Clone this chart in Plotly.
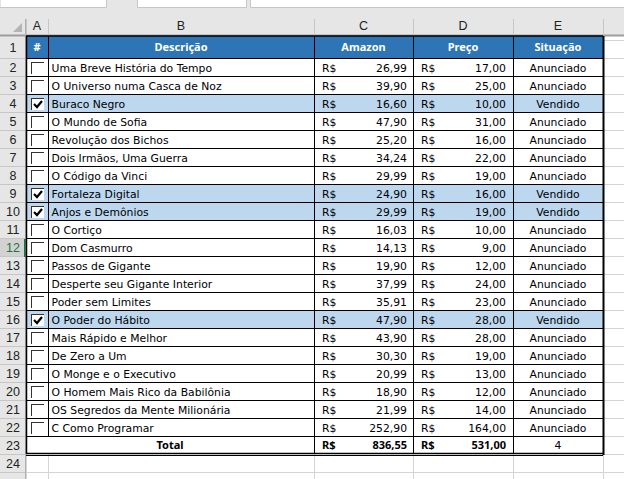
import plotly.graph_objects as go

# Table content
descricao = [
    "Uma Breve História do Tempo", "O Universo numa Casca de Noz", "Buraco Negro",
    "O Mundo de Sofia", "Revolução dos Bichos", "Dois Irmãos, Uma Guerra",
    "O Código da Vinci", "Fortaleza Digital", "Anjos e Demônios", "O Cortiço",
    "Dom Casmurro", "Passos de Gigante", "Desperte seu Gigante Interior",
    "Poder sem Limites", "O Poder do Hábito", "Mais Rápido e Melhor", "De Zero a Um",
    "O Monge e o Executivo", "O Homem Mais Rico da Babilônia",
    "OS Segredos da Mente Milionária", "C Como Programar",
]
amazon = ["26,99", "39,90", "16,60", "47,90", "25,20", "34,24", "29,99", "24,90", "29,99", "16,03",
          "14,13", "19,90", "37,99", "35,91", "47,90", "43,90", "30,30", "20,99", "18,90", "21,99", "252,90"]
preco = ["17,00", "25,00", "10,00", "31,00", "16,00", "22,00", "19,00", "16,00", "19,00", "10,00",
         "9,00", "12,00", "24,00", "23,00", "28,00", "28,00", "19,00", "13,00", "12,00", "14,00", "164,00"]
situacao = ["Anunciado", "Anunciado", "Vendido", "Anunciado", "Anunciado", "Anunciado", "Anunciado",
            "Vendido", "Vendido", "Anunciado", "Anunciado", "Anunciado", "Anunciado", "Anunciado",
            "Vendido", "Anunciado", "Anunciado", "Anunciado", "Anunciado", "Anunciado", "Anunciado"]
headers = ["#", "Descrição", "Amazon", "Preço", "Situação"]
col_letters = ["A", "B", "C", "D", "E"]
total_amazon = "836,55"
total_preco = "531,00"
total_vendidos = "4"

# Sheet geometry in pixels
W, H = 624, 479
col_edges = [26, 48, 314, 413, 513, 603]
ROW_H = 18
HEAD_TOP, FIRST_ROW = 36, 58
n_rows = len(descricao)
row_top = lambda i: FIRST_ROW + ROW_H * i
total_top = row_top(n_rows)
total_bottom = total_top + ROW_H
TEXT_DY = 2  # text sits a bit low in its cell, as in Excel
SELECTED_ROW = 12

BLUE = "#2E75B6"
SOLD = "#BDD7EE"
FONT = "DejaVu Sans"
BOLD_FONT = "Noto Sans"
INK = "#000000"
shapes = []


def rect(x0, y0, x1, y1, fill, line=None, width=1):
    shapes.append(dict(type="rect", x0=x0, y0=y0, x1=x1, y1=y1, fillcolor=fill, layer="below",
                       line=dict(color=line, width=width) if line else dict(width=0)))


def seg(x0, y0, x1, y1, color="#000000", width=1):
    shapes.append(dict(type="line", x0=x0, y0=y0, x1=x1, y1=y1, layer="below",
                       line=dict(color=color, width=width)))


# Toolbar strip
rect(0, 0, W, 36, "#E6E6E6")
rect(0, -2, 106.5, 7.5, "#FFFFFF", "#C6C6C6")
rect(137.5, -2, 246.5, 7.5, "#FFFFFF", "#C6C6C6")
rect(250.5, -2, W + 2, 7.5, "#FFFFFF", "#C6C6C6")

# Column and row headers
rect(0, 36, 26, H, "#E6E6E6")
sel_top = row_top(SELECTED_ROW - 2)
rect(0, sel_top, 26, sel_top + ROW_H, "#D2D2D2")
seg(0, 35.5, W, 35.5, "#9E9E9E", 2)
seg(25.5, 19, 25.5, H, "#B0B0B0", 1)
for x in col_edges:
    seg(x + 0.5, 19, x + 0.5, 35, "#C6C6C6")
for i in range(24):
    seg(0, row_top(i) + 0.5, 25, row_top(i) + 0.5, "#C6C6C6")
shapes.append(dict(type="path", path="M 22 23 L 22 32 L 13 32 Z", fillcolor="#B4B4B4",
                   line=dict(width=0), layer="below"))

# Empty sheet gridlines
for x in col_edges:
    seg(x + 0.5, total_bottom, x + 0.5, H, "#D4D4D4")
for i in range(-1, n_rows + 2):
    seg(col_edges[-1], row_top(i) + 0.5, W, row_top(i) + 0.5, "#D4D4D4")
seg(col_edges[0], total_bottom + ROW_H + 0.5, W, total_bottom + ROW_H + 0.5, "#D4D4D4")

# Header band and sold rows
rect(col_edges[0], HEAD_TOP, col_edges[-1], FIRST_ROW, BLUE)
for i, s in enumerate(situacao):
    if s == "Vendido":
        rect(col_edges[0], row_top(i), col_edges[-1], row_top(i + 1), SOLD)

# Table borders
for i in range(n_rows + 1):
    seg(col_edges[0], row_top(i) + 0.5, col_edges[-1], row_top(i) + 0.5)
for x in col_edges[1:-1]:
    seg(x + 0.5, HEAD_TOP, x + 0.5, total_top if x == col_edges[1] else total_bottom)
seg(col_edges[0], HEAD_TOP, col_edges[-1], HEAD_TOP, width=1.5)
seg(col_edges[0] + 0.5, HEAD_TOP, col_edges[0] + 0.5, total_bottom, width=1.5)
seg(col_edges[-1] + 0.5, HEAD_TOP, col_edges[-1] + 0.5, total_bottom + 1, width=2)
seg(col_edges[0], total_bottom - 0.5, col_edges[-1], total_bottom - 0.5, width=1.5)
seg(col_edges[0], total_bottom + 1.5, col_edges[-1], total_bottom + 1.5)

# Green mark of the selected row, on top of the table border
rect(24, sel_top + 1, 26, sel_top + ROW_H + 1, "#217346")

# Checkboxes
for i, s in enumerate(situacao):
    y = row_top(i)
    if s == "Vendido":
        rect(31, y + 4, 44, y + 16, "#FFFFFF")
        shapes.append(dict(type="path", path=f"M 34 {y+10} L 37 {y+13} L 42 {y+7}", layer="below",
                           line=dict(color="#000000", width=2.2)))
    seg(31, y + 4.5, 44, y + 4.5, "#333333")
    seg(31.5, y + 4, 31.5, y + 16, "#333333")


def text_trace(xs, ys, labels, position, color=INK, size=10.8, weight=400, family=FONT):
    return go.Scatter(x=xs, y=[v + TEXT_DY for v in ys], text=labels, mode="text", textposition=position,
                      hoverinfo="skip", textfont=dict(family=family, size=size, color=color, weight=weight))


mid = lambda i: row_top(i) + ROW_H / 2
ys = [mid(i) for i in range(n_rows)]
head_y = [(HEAD_TOP + FIRST_ROW) / 2 - 0.5] * 5
centers = [(col_edges[k] + col_edges[k + 1]) / 2 for k in range(5)]
row_labels = [str(i) for i in range(1, 25)]
row_label_y = [(HEAD_TOP + FIRST_ROW) / 2] + [mid(i) for i in range(23)]

fig = go.Figure()
fig.add_trace(text_trace(centers, [25] * 5, col_letters, "middle center", "#222222", 12.5, family="Liberation Sans"))
fig.add_trace(text_trace([13] * 24, row_label_y, row_labels, "middle center",
                         ["#217346" if n == str(SELECTED_ROW) else "#222222" for n in row_labels],
                         12.5, family="Liberation Sans"))
fig.add_trace(text_trace(centers, head_y, headers, "middle center", "#FFFFFF", 11, 700, BOLD_FONT))
fig.add_trace(text_trace([51.5] * n_rows, ys, descricao, "middle right"))
fig.add_trace(text_trace([322] * n_rows, ys, ["R$"] * n_rows, "middle right"))
fig.add_trace(text_trace([407] * n_rows, ys, amazon, "middle left"))
fig.add_trace(text_trace([421] * n_rows, ys, ["R$"] * n_rows, "middle right"))
fig.add_trace(text_trace([506] * n_rows, ys, preco, "middle left"))
fig.add_trace(text_trace([centers[4]] * n_rows, ys, situacao, "middle center"))

ty = total_top + ROW_H / 2 - 0.5
fig.add_trace(text_trace([(col_edges[0] + col_edges[2]) / 2], [ty], ["Total"], "middle center", size=11, weight=700, family=BOLD_FONT))
fig.add_trace(text_trace([322, 421], [ty, ty], ["R$", "R$"], "middle right", size=11, weight=700, family=BOLD_FONT))
fig.add_trace(text_trace([407, 506], [ty, ty], [total_amazon, total_preco], "middle left", size=11, weight=700, family=BOLD_FONT))
fig.add_trace(text_trace([centers[4]], [ty], [total_vendidos], "middle center"))

fig.update_layout(
    width=W, height=H, margin=dict(l=0, r=0, t=0, b=0), showlegend=False,
    paper_bgcolor="#FFFFFF", plot_bgcolor="#FFFFFF", shapes=shapes,
    xaxis=dict(range=[0, W], visible=False, fixedrange=True),
    yaxis=dict(range=[H, 0], visible=False, fixedrange=True),
)
fig.write_html("out.html", config=dict(displayModeBar=False),
               post_script="document.body.style.margin='0';document.documentElement.style.overflow='hidden';")
